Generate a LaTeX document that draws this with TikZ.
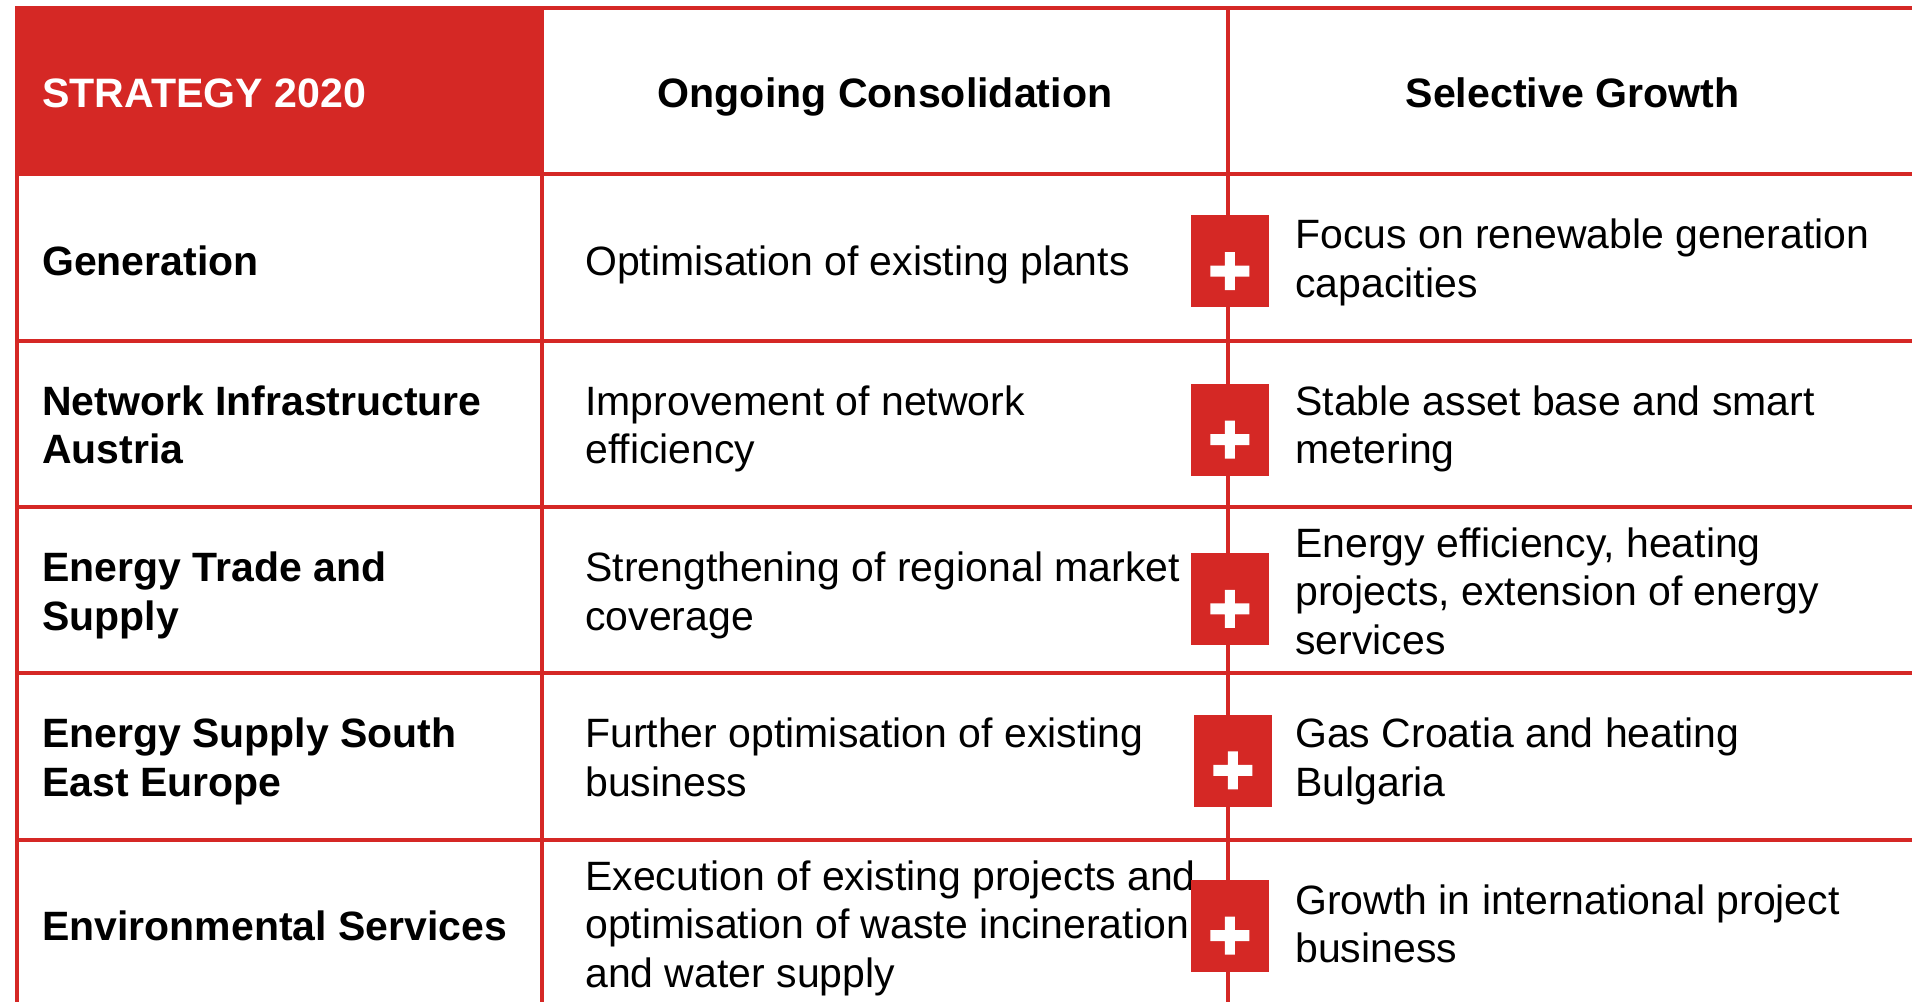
\documentclass[tikz,border=0pt]{standalone}
\usepackage{fontspec}
\setmainfont{Liberation Sans}
\usepackage{tikz}

\definecolor{tabred}{RGB}{213,40,37}
\tikzstyle{cell} = [rectangle, draw=tabred, line width=1.1pt, minimum height=1.664cm, inner sep=0pt]
\tikzstyle{areacell} = [cell, minimum width=5.25cm]
\tikzstyle{conscell} = [cell, minimum width=6.86cm]
\tikzstyle{growcell} = [cell, minimum width=6.89cm]
\tikzstyle{head} = [font=\fontsize{11.7}{14}\selectfont\bfseries, text height=9.2pt, text depth=0pt]
\tikzstyle{body} = [anchor=west, align=left, inner sep=0pt, yshift=-0.08cm, execute at begin node=\strut, execute at end node=\strut]
\tikzstyle{unit} = [body, xshift=0.265cm, font=\fontsize{11.66}{13.8}\selectfont\bfseries]
\tikzstyle{ctext} = [body, xshift=0.445cm, font=\fontsize{11.66}{13.8}\selectfont]
\tikzstyle{gtext} = [ctext, xshift=0.24cm]
\tikzstyle{plus} = [rectangle, fill=tabred, minimum width=0.78cm, minimum height=0.92cm, inner sep=0pt,
    path picture={\fill[white] ([yshift=-0.097cm]path picture bounding box.center) +(-0.195,-0.055) rectangle +(0.195,0.055) +(-0.05,-0.19) rectangle +(0.05,0.19);}]

\begin{document}
\begin{tikzpicture}[node distance=1.664cm]
        \path[use as bounding box, fill=white] (0,0) rectangle (19.12,-10.01);
        \clip (0,0) rectangle (19.12,-10.01);

        % header row
        \node (strategy) [areacell, fill=tabred] at (2.795,-0.91) {};
        \node (cons) [conscell, head] at (8.85,-0.91) {Ongoing Consolidation};
        \node (grow) [growcell, head] at (15.725,-0.91) {Selective Growth};

        % one row per business unit
        \node (gen) [areacell, below of=strategy] {};
        \node (net) [areacell, below of=gen] {};
        \node (trade) [areacell, below of=net] {};
        \node (see) [areacell, below of=trade] {};
        \node (env) [areacell, below of=see] {};

        \node (gencons) [conscell, below of=cons] {};
        \node (netcons) [conscell, below of=gencons] {};
        \node (tradecons) [conscell, below of=netcons] {};
        \node (seecons) [conscell, below of=tradecons] {};
        \node (envcons) [conscell, below of=seecons] {};

        \node (gengrow) [growcell, below of=grow] {};
        \node (netgrow) [growcell, below of=gengrow] {};
        \node (tradegrow) [growcell, below of=netgrow] {};
        \node (seegrow) [growcell, below of=tradegrow] {};
        \node (envgrow) [growcell, below of=seegrow] {};

        % texts
        \node (strategyT) [head, anchor=west, inner sep=0pt, xshift=0.265cm, text=white] at (strategy.west) {STRATEGY 2020};
        \node (genT) [unit] at (gen.west) {Generation};
        \node (netT) [unit] at (net.west) {Network Infrastructure\\Austria};
        \node (tradeT) [unit] at (trade.west) {Energy Trade and\\Supply};
        \node (seeT) [unit] at (see.west) {Energy Supply South\\East Europe};
        \node (envT) [unit] at (env.west) {Environmental Services};

        \node (genconsT) [ctext] at (gencons.west) {Optimisation of existing plants};
        \node (netconsT) [ctext] at (netcons.west) {Improvement of network\\efficiency};
        \node (tradeconsT) [ctext] at (tradecons.west) {Strengthening of regional market\\coverage};
        \node (seeconsT) [ctext] at (seecons.west) {Further optimisation of existing\\business};
        \node (envconsT) [ctext] at (envcons.west) {Execution of existing projects and\\optimisation of waste incineration\\and water supply};

        \node (gengrowT) [gtext] at (gengrow.west) {Focus on renewable generation\\capacities};
        \node (netgrowT) [gtext] at (netgrow.west) {Stable asset base and smart\\metering};
        \node (tradegrowT) [gtext] at (tradegrow.west) {Energy efficiency, heating\\projects, extension of energy\\services};
        \node (seegrowT) [gtext] at (seegrow.west) {Gas Croatia and heating\\Bulgaria};
        \node (envgrowT) [gtext] at (envgrow.west) {Growth in international project\\business};

        % plus boxes on the column border
        \node (genplus) [plus, yshift=-0.04cm] at (gencons.east) {};
        \node (netplus) [plus, yshift=-0.06cm] at (netcons.east) {};
        \node (tradeplus) [plus, yshift=-0.09cm] at (tradecons.east) {};
        \node (seeplus) [plus, xshift=0.03cm, yshift=-0.04cm] at (seecons.east) {};
        \node (envplus) [plus, yshift=-0.03cm] at (envcons.east) {};

    \end{tikzpicture}
\end{document}
